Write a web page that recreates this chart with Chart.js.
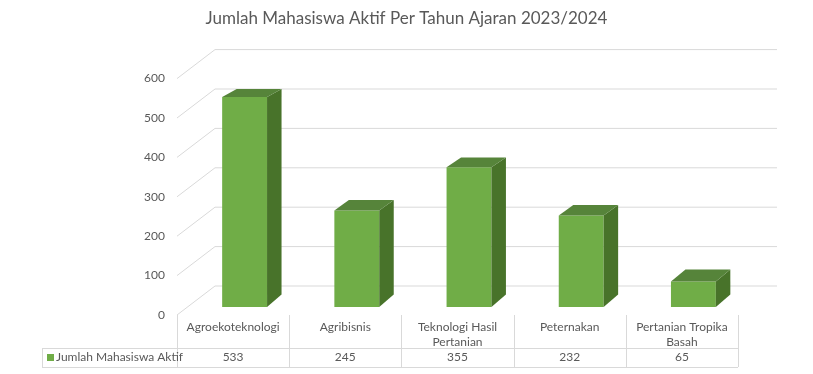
<!DOCTYPE html>
<html>
<head>
<meta charset="utf-8">
<script src="https://cdn.jsdelivr.net/npm/chart.js@4/dist/chart.umd.min.js"></script>
<style>
  html, body { margin: 0; padding: 0; background: #fff; }
  #wrap { width: 813px; height: 374px; }
</style>
</head>
<body>
<div id="wrap"><canvas id="c"></canvas></div>
<script>
'use strict';
/* Jumlah mahasiswa aktif — barras 3D con tabla de datos */

const titulo = 'Jumlah Mahasiswa Aktif Per Tahun Ajaran 2023/2024';
const categories = [['Agroekoteknologi'], ['Agribisnis'], ['Teknologi Hasil', 'Pertanian'], ['Peternakan'], ['Pertanian Tropika', 'Basah']];
const seriesName = 'Jumlah Mahasiswa Aktif';
const values = [533, 245, 355, 232, 65];
const yTicks = [0, 100, 200, 300, 400, 500, 600];

const FONT = 'Lato, "Open Sans", sans-serif';
const TXT = '#595959';
const GRID = '#d9d9d9';
const VERDE = '#70ad47', TOPE = '#56843a', LADO = '#48732a';

// desplazamientos de la "profundidad" (perspectiva aproximada)
const SHIFT = 11.5;          // plano frontal de barras vs. columnas de la tabla
const FRONT_DY = 8, BACK_DY = -21, BACK_DX = 38;
const depthDy = y => -(8 + (y - 97) * 0.0216);
const DEPTH_DX = 14.5;

const pared3d = {
  id: 'pared3d',
  beforeDatasetsDraw(chart) {
    const { ctx, chartArea: a, scales: { y } } = chart;
    const fx = a.left - SHIFT, bx = fx + BACK_DX, right = 777;
    ctx.save();
    ctx.strokeStyle = GRID; ctx.lineWidth = 1;
    yTicks.forEach(v => {
      const py = y.getPixelForValue(v);
      ctx.beginPath();
      ctx.moveTo(fx, py + FRONT_DY);
      ctx.lineTo(bx, py + BACK_DY);
      ctx.lineTo(right, py + BACK_DY);
      ctx.stroke();
    });
    ctx.fillStyle = TXT; ctx.font = '12px ' + FONT;
    ctx.textAlign = 'right'; ctx.textBaseline = 'middle';
    yTicks.forEach(v => ctx.fillText(String(v), fx - 12, y.getPixelForValue(v) + FRONT_DY));
    ctx.restore();
  },
  afterDatasetsDraw(chart) {
    const { ctx } = chart;
    ctx.save();
    chart.getDatasetMeta(0).data.forEach(bar => {
      const { x, y, base, width } = bar.getProps(['x', 'y', 'base', 'width'], true);
      const l = x - width / 2, r = x + width / 2;
      const dt = depthDy(y), db = depthDy(base);
      ctx.fillStyle = LADO;
      ctx.beginPath();
      ctx.moveTo(r, y); ctx.lineTo(r + DEPTH_DX, y + dt);
      ctx.lineTo(r + DEPTH_DX, base + db); ctx.lineTo(r, base);
      ctx.closePath(); ctx.fill();
      ctx.fillStyle = TOPE;
      ctx.beginPath();
      ctx.moveTo(l, y); ctx.lineTo(l + DEPTH_DX, y + dt);
      ctx.lineTo(r + DEPTH_DX, y + dt); ctx.lineTo(r, y);
      ctx.closePath(); ctx.fill();
    });
    ctx.restore();
  },
  afterDraw(chart) {
    const { ctx, width, scales: { x } } = chart;
    // título centrado sobre todo el lienzo
    ctx.save();
    ctx.fillStyle = TXT; ctx.font = '17px ' + FONT;
    ctx.textAlign = 'center'; ctx.textBaseline = 'middle';
    ctx.fillText(titulo, width / 2, 19);

    // tabla de datos
    const half = (x.getPixelForValue(1) - x.getPixelForValue(0)) / 2;
    const bordes = [x.getPixelForValue(0) - half - SHIFT].concat(values.map((_, i) => x.getPixelForValue(i) + half - SHIFT));
    const left = 42, top = 315, mid = 348, bottom = 367;
    const crisp = v => Math.round(v) + 0.5;
    ctx.strokeStyle = GRID; ctx.lineWidth = 1;
    ctx.beginPath();
    bordes.forEach(bx => { ctx.moveTo(crisp(bx), top); ctx.lineTo(crisp(bx), bottom); });
    ctx.moveTo(crisp(left), mid); ctx.lineTo(crisp(left), bottom);
    ctx.moveTo(left, crisp(mid)); ctx.lineTo(bordes[bordes.length - 1], crisp(mid));
    ctx.moveTo(left, crisp(bottom)); ctx.lineTo(bordes[bordes.length - 1], crisp(bottom));
    ctx.stroke();

    ctx.font = '12px ' + FONT;
    categories.forEach((lines, i) => {
      const cx = x.getPixelForValue(i) - SHIFT;
      lines.forEach((t, k) => ctx.fillText(t, cx, 327 + k * 15.5));
      ctx.fillText(String(values[i]), cx, 357.5);
    });
    ctx.fillStyle = VERDE;
    ctx.fillRect(47, 354, 7, 7);
    ctx.fillStyle = TXT; ctx.textAlign = 'left';
    ctx.fillText(seriesName, 56, 357.5);
    ctx.restore();
  },
};

new Chart(document.getElementById('c'), {
  type: 'bar',
  data: {
    labels: categories,
    datasets: [{
      label: seriesName,
      data: values,
      backgroundColor: VERDE,
      borderWidth: 0,
      barPercentage: 0.4,
      categoryPercentage: 1,
    }],
  },
  options: {
    responsive: true, maintainAspectRatio: false, animation: false,
    layout: { padding: { top: 70.6, bottom: 67, left: 188.5, right: 63.5 } },
    plugins: {
      legend: { display: false },
      tooltip: { enabled: false },
      title: { display: false },
    },
    scales: {
      x: { display: false, offset: true },
      y: { display: false, min: 0, max: 600 },
    },
  },
  plugins: [pared3d],
});
</script>
</body>
</html>
